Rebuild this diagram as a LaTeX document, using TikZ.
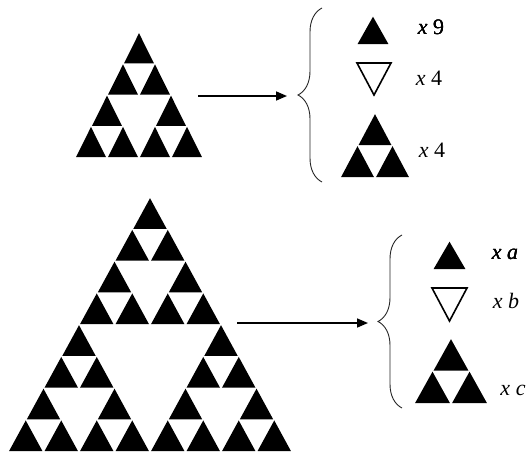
\documentclass[tikz,border=0pt]{standalone}
\usepackage{fontspec}
\setmainfont{Liberation Serif}
\usepackage{tikz}
\usetikzlibrary{positioning, arrows.meta, decorations.pathreplacing}

% one black cell of a Sierpinski triangle: top x, top y, width, height
\newcommand{\blackcell}[4]{%
  \fill[black] ({#1},{#2+1.2}) -- ({#1-#3/2+1.1},{#2+#4}) -- ({#1+#3/2-1.1},{#2+#4}) -- cycle;}

\begin{document}
\begin{tikzpicture}[x=1pt, y=-1pt,
    countlabel/.style={font=\fontsize{22}{26}\selectfont, text=black, inner sep=0pt},
    maparrow/.style={-{Triangle[length=11pt, width=9pt]}, line width=1.6pt},
    bracket/.style={decorate, decoration={brace, amplitude=24pt, aspect=0.5}, line width=0.9pt, black!85},
    hollowtri/.style={draw=black, line width=1.6pt, fill=white, line join=miter}]
  \useasboundingbox (0,0) rectangle (527,453);

  % Upper triangle (two steps)
  \foreach \ra/\ka in {0/0,2/0,2/2}
    \foreach \rb/\kb in {0/0,1/0,1/1} {
      \pgfmathsetmacro\r{\ra+\rb}
      \pgfmathsetmacro\k{\ka+\kb}
      \pgfmathsetmacro\cx{139+(\k-\r/2)*32}
      \pgfmathsetmacro\cy{32+\r*31.25}
      \blackcell{\cx}{\cy}{32}{31.25}
    }

  % Lower triangle (three steps)
  \foreach \ra/\ka in {0/0,4/0,4/4}
    \foreach \rb/\kb in {0/0,2/0,2/2}
      \foreach \rc/\kc in {0/0,1/0,1/1} {
        \pgfmathsetmacro\r{\ra+\rb+\rc}
        \pgfmathsetmacro\k{\ka+\kb+\kc}
        \pgfmathsetmacro\cx{150+(\k-\r/2)*35.5}
        \pgfmathsetmacro\cy{197+\r*31.75}
        \blackcell{\cx}{\cy}{35.5}{31.75}
      }

  % Arrows
  \coordinate (upperFrom) at (198,96);
  \coordinate (upperTo) at (287,96);
  \draw[maparrow] (upperFrom) -- (upperTo);
  \coordinate (lowerFrom) at (237,323);
  \coordinate (lowerTo) at (368,323);
  \draw[maparrow] (lowerFrom) -- (lowerTo);

  % Braces
  \coordinate (upperBraceLow) at (322,182);
  \coordinate (upperBraceHigh) at (322,8);
  \draw[bracket] (upperBraceLow) -- (upperBraceHigh);
  \coordinate (lowerBraceLow) at (402,408);
  \coordinate (lowerBraceHigh) at (402,235);
  \draw[bracket] (lowerBraceLow) -- (lowerBraceHigh);

  % Upper counts
  \blackcell{373}{15.5}{33}{28.5}
  \draw[hollowtri] (357,63) -- (391,63) -- (374,95) -- cycle;
  \foreach \r/\k in {0/0,1/0,1/1}
    \blackcell{375+(\k-\r/2)*35}{113+\r*32}{35}{32}
  \node[countlabel] (nine) at (431,27) {\textit{x} 9};
  \node[countlabel] (fourDown) at (429,78) {\textit{x} 4};
  \node[countlabel] (fourUp) at (432,150) {\textit{x} 4};

  % Lower counts
  \blackcell{449.5}{240.5}{34}{28.5}
  \draw[hollowtri] (432,288) -- (467,288) -- (449.5,321) -- cycle;
  \foreach \r/\k in {0/0,1/0,1/1}
    \blackcell{451+(\k-\r/2)*37}{338+\r*32.5}{37}{32.5}
  \node[countlabel] (countA) at (505,254) {\textit{x a}};
  \node[countlabel] (countB) at (506,301) {\textit{x b}};
  \node[countlabel] (countC) at (513,390) {\textit{x c}};
\end{tikzpicture}
\end{document}
